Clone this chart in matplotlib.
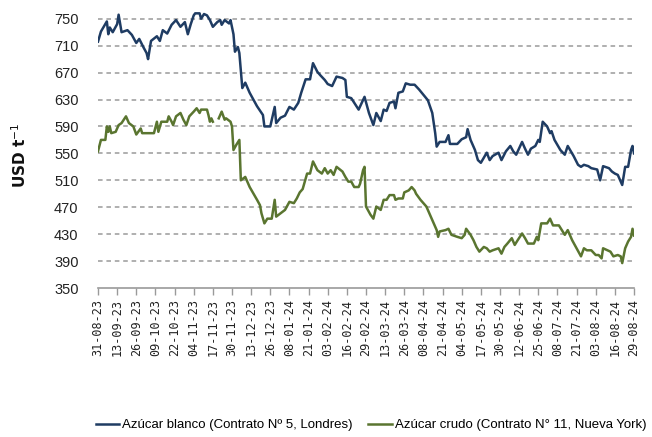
# Precios del azúcar blanco y crudo, 31-08-23 a 29-08-24
import matplotlib
matplotlib.use('Agg')
import matplotlib.pyplot as plt
import matplotlib.dates as mdates
import numpy as np
import datetime as dt

start = dt.date(2023, 8, 31)

# days since 31-08-23 and prices (USD/t)
blanco_days = [0, 2, 6, 7, 8, 10, 13, 14, 16, 20, 23, 26, 28, 31, 33, 34, 36, 40, 42, 44,
               47, 50, 53, 56, 59, 61, 63, 65, 66, 69, 70, 72, 74, 76, 78, 81, 83, 84, 86, 89,
               90, 92, 93, 95, 96, 98, 100, 103, 108, 112, 113, 117, 120, 121, 124, 127, 130, 133, 136, 138,
               141, 144, 146, 149, 151, 154, 156, 159, 162, 166, 168, 169, 172, 177, 181, 184, 187, 189, 192, 194,
               196, 198, 201, 202, 204, 207, 209, 212, 215, 218, 221, 224, 227, 229, 230, 232, 236, 238, 239, 244,
               247, 250, 251, 253, 256, 258, 260, 264, 266, 268, 272, 274, 277, 280, 282, 284, 288, 290, 292, 294,
               297, 299, 300, 302, 305, 307, 308, 310, 314, 317, 319, 323, 326, 328, 330, 333, 335, 339, 341, 343,
               347, 349, 351, 353, 356, 358, 360, 362, 363, 364]
blanco = [716, 731, 746, 727, 737, 730, 742, 756, 730, 733, 726, 714, 720, 707, 699, 690, 717, 724, 717, 733,
          728, 741, 748, 738, 745, 727, 742, 755, 758, 758, 750, 757, 755, 748, 738, 745, 748, 741, 748, 743,
          748, 727, 701, 708, 699, 647, 655, 640, 620, 607, 590, 590, 619, 595, 603, 606, 619, 615, 625, 640,
          660, 660, 684, 671, 666, 659, 653, 650, 664, 662, 659, 634, 632, 615, 634, 610, 592, 610, 598, 615,
          613, 625, 627, 617, 640, 642, 654, 652, 652, 645, 637, 629, 610, 580, 560, 567, 567, 577, 564, 564,
          571, 574, 586, 570, 555, 540, 536, 551, 540, 546, 551, 540, 553, 561, 553, 548, 567, 557, 548, 557,
          561, 570, 567, 597, 590, 580, 583, 570, 555, 548, 561, 546, 533, 530, 533, 531, 528, 526, 510, 531,
          528, 523, 520, 518, 503, 530, 530, 555, 561, 550]

crudo_days = [0, 2, 5, 6, 7, 8, 9, 12, 14, 16, 19, 21, 24, 26, 29, 30, 33, 38, 40, 41,
              43, 47, 48, 50, 51, 53, 56, 58, 60, 62, 65, 67, 69, 70, 74, 75, 76, 77, 78, 80,
              82, 84, 86, 87, 90, 91, 92, 94, 96, 97, 100, 103, 108, 110, 111, 113, 115, 118, 120, 121,
              124, 127, 130, 133, 135, 137, 139, 142, 144, 146, 149, 152, 154, 156, 158, 160, 162, 166, 168, 170,
              172, 174, 177, 178, 180, 181, 182, 185, 187, 189, 192, 194, 196, 198, 201, 202, 204, 207, 208, 211,
              213, 215, 216, 219, 221, 223, 226, 228, 230, 231, 232, 236, 238, 240, 244, 247, 249, 250, 253, 255,
              257, 259, 262, 264, 266, 268, 272, 274, 276, 278, 281, 283, 285, 288, 290, 292, 296, 298, 299, 301,
              305, 307, 309, 313, 315, 317, 319, 322, 325, 328, 330, 332, 335, 338, 340, 342, 343, 346, 348, 350,
              353, 355, 356, 358, 360, 362, 363, 364]
crudo = [553, 570, 570, 590, 582, 590, 580, 582, 592, 595, 605, 595, 590, 578, 587, 580, 580, 580, 597, 582,
         597, 597, 605, 597, 592, 605, 610, 600, 592, 605, 612, 617, 610, 615, 615, 607, 597, 602, 597, np.nan,
         602, 612, 600, 602, 597, 590, 555, 563, 570, 510, 515, 500, 481, 473, 461, 446, 453, 453, 481, 456,
         461, 466, 478, 476, 483, 492, 497, 520, 520, 538, 525, 520, 528, 520, 525, 518, 530, 523, 515, 508,
         508, 500, 500, 505, 525, 530, 471, 459, 453, 471, 466, 481, 481, 488, 488, 481, 483, 483, 492, 495,
         500, 495, 490, 481, 476, 471, 456, 446, 436, 426, 434, 436, 438, 429, 426, 424, 429, 438, 429, 421,
         411, 404, 411, 409, 404, 406, 409, 401, 411, 416, 424, 414, 421, 431, 424, 416, 416, 426, 421, 446,
         446, 453, 443, 443, 436, 429, 436, 421, 409, 397, 409, 406, 406, 399, 399, 394, 409, 406, 404, 397,
         399, 397, 387, 409, 419, 426, 438, 428]

yticks = list(range(350, 751, 40))
tick_step = 13  # days between x tick labels

blanco_label = 'Azúcar blanco (Contrato Nº 5, Londres)'
crudo_label = 'Azúcar crudo (Contrato N° 11, Nueva York)'

narrow = ['Liberation Sans', 'DejaVu Sans']

b_dates = [start + dt.timedelta(days=d) for d in blanco_days]
c_dates = [start + dt.timedelta(days=d) for d in crudo_days]
end = start + dt.timedelta(days=364)
xt = [start + dt.timedelta(days=d) for d in range(0, 365, tick_step)]

fig = plt.figure(figsize=(6.52, 4.37), dpi=100)
ax = fig.add_axes([98/652, 1 - 288/437, (634-98)/652, (288-12)/437])

for y in yticks[1:]:
    ax.axhline(y, color='#9a9a9a', lw=1.1, ls=(0, (3, 2.5)), zorder=1)

ax.plot(b_dates, blanco, color='#1f3c63', lw=1.8, label=blanco_label, zorder=3)
ax.plot(c_dates, crudo, color='#5a7530', lw=1.8, label=crudo_label, zorder=3)

ax.set_xlim(start, end)
ax.set_ylim(350, 760)
ax.set_yticks(yticks)
ax.set_xticks(xt)
ax.xaxis.set_major_formatter(mdates.DateFormatter('%d-%m-%y'))

for s in ['top', 'right', 'left']:
    ax.spines[s].set_visible(False)
ax.spines['bottom'].set_color('#9a9a9a')
ax.spines['bottom'].set_linewidth(1.2)
ax.tick_params(axis='y', length=0, pad=14, labelsize=10.5, labelcolor='#222222')
ax.tick_params(axis='x', length=5, width=1, color='#9a9a9a', direction='out',
               labelsize=8.5, labelrotation=90, labelcolor='#222222', pad=3)
for lab in ax.get_yticklabels():
    lab.set_family(narrow)
for lab in ax.get_xticklabels():
    lab.set_family('DejaVu Sans Mono')

fig.text(20/652, 1 - 155/437, 'USD t$^{-1}$', rotation=90, ha='center', va='center',
         fontsize=11, fontweight='bold', color='#111111')

fig.legend(loc='center', bbox_to_anchor=(371/652, 1 - 425/437), ncol=2, frameon=False,
           prop={'family': narrow, 'size': 9.5}, handlelength=1.8, handletextpad=0.2,
           columnspacing=1.2)

fig.savefig('out.png', dpi=100)
